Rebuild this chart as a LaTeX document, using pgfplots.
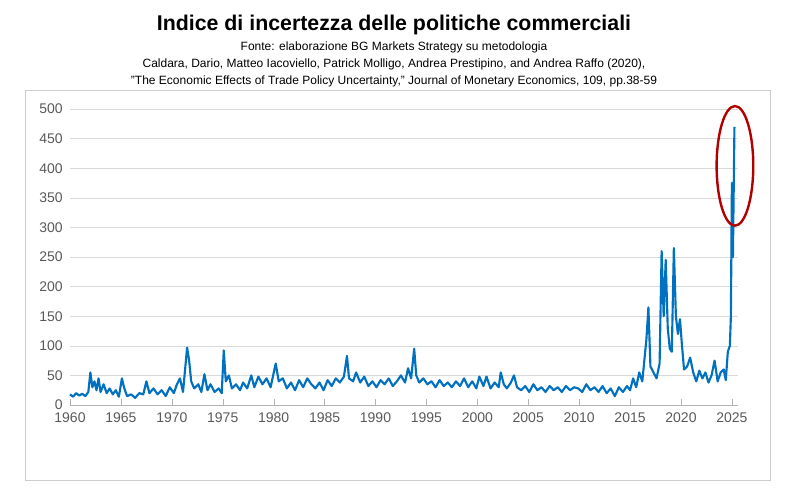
\documentclass[border=0pt]{standalone}
\usepackage{pgfplots}
\pgfplotsset{compat=1.18}
\usepackage{fontspec}
\setmainfont{Liberation Sans}
\definecolor{ser}{HTML}{0070C0}
\definecolor{tk}{HTML}{595959}
\begin{document}
\begin{tikzpicture}[x=1pt,y=1pt]
\useasboundingbox (0,0) rectangle (591,370.5);
\draw[gray!40] (18.75,10.5) rectangle (577.5,303);
\node[font=\bfseries\fontsize{16}{18}\selectfont] at (295.5,351.5) {Indice di incertezza delle politiche commerciali};
\node[font=\fontsize{9}{10}\selectfont] at (295.5,335.2) {Fonte: elaborazione BG Markets Strategy su metodologia};
\node[font=\fontsize{9}{10}\selectfont] at (295.5,322.5) {Caldara, Dario, Matteo Iacoviello, Patrick Molligo, Andrea Prestipino, and Andrea Raffo (2020),};
\node[font=\fontsize{9}{10}\selectfont] at (295.5,309.7) {"The Economic Effects of Trade Policy Uncertainty," Journal of Monetary Economics, 109, pp.38-59};
\begin{axis}[at={(52.5pt,66.75pt)},anchor=south west,scale only axis,width=501pt,height=222pt,
 xmin=1960,xmax=2025.6,ymin=0,ymax=500,enlargelimits=false,
 xtick={1960,1965,...,2025},ytick={0,50,...,500},
 /pgf/number format/1000 sep={},/pgf/number format/assume math mode=true,
 ymajorgrids,grid style={gray!30},axis y line*=left,axis x line*=bottom,
 y axis line style={draw=none},x axis line style={gray!60},
 tick style={draw=none},xtick style={draw=gray!60},
 xticklabel style={yshift=-2pt},yticklabel style={xshift=-2pt},
 ticklabel style={font=\fontsize{10.5}{12}\selectfont,text=tk},clip=false]
\addplot[ser,line width=1.6pt,line join=round] coordinates {
(1960.0,18)(1960.3,14)(1960.6,20)(1960.9,16)(1961.2,19)(1961.5,15)(1961.8,22)(1962.0,55)(1962.2,30)(1962.4,40)(1962.6,25)(1962.8,45)(1963.0,22)(1963.3,35)(1963.6,20)(1963.9,28)(1964.2,18)(1964.5,25)(1964.8,14)(1965.1,45)(1965.3,30)(1965.6,15)(1966.0,18)(1966.4,12)(1966.8,20)(1967.2,18)(1967.5,40)(1967.8,20)(1968.2,28)(1968.6,18)(1969.0,25)(1969.4,15)(1969.8,30)(1970.2,20)(1970.5,35)(1970.8,45)(1971.1,22)(1971.5,97)(1971.7,75)(1971.9,40)(1972.2,28)(1972.6,35)(1972.9,22)(1973.2,52)(1973.5,25)(1973.8,35)(1974.2,22)(1974.6,28)(1974.9,20)(1975.1,92)(1975.3,40)(1975.6,50)(1975.9,28)(1976.3,35)(1976.7,25)(1977.0,38)(1977.4,28)(1977.8,50)(1978.1,30)(1978.5,48)(1978.9,35)(1979.3,45)(1979.7,30)(1980.2,70)(1980.5,40)(1980.9,45)(1981.3,28)(1981.7,38)(1982.1,25)(1982.5,42)(1982.9,30)(1983.3,45)(1983.7,35)(1984.1,28)(1984.5,38)(1984.9,25)(1985.3,42)(1985.7,32)(1986.1,45)(1986.5,38)(1986.9,48)(1987.2,83)(1987.4,45)(1987.8,40)(1988.1,55)(1988.5,38)(1988.9,48)(1989.3,32)(1989.7,40)(1990.1,30)(1990.5,42)(1990.9,35)(1991.3,45)(1991.7,32)(1992.1,40)(1992.5,50)(1992.9,38)(1993.2,62)(1993.5,45)(1993.8,95)(1994.0,50)(1994.3,38)(1994.7,45)(1995.1,35)(1995.5,40)(1995.9,30)(1996.3,42)(1996.7,32)(1997.1,38)(1997.5,30)(1997.9,40)(1998.3,32)(1998.7,45)(1999.1,30)(1999.5,40)(1999.9,28)(2000.2,48)(2000.6,32)(2000.9,48)(2001.3,28)(2001.7,38)(2002.1,30)(2002.3,55)(2002.6,35)(2002.9,28)(2003.3,38)(2003.6,50)(2003.9,30)(2004.3,25)(2004.7,32)(2005.1,22)(2005.5,35)(2005.9,25)(2006.3,30)(2006.7,22)(2007.1,32)(2007.5,25)(2007.9,30)(2008.3,22)(2008.7,32)(2009.1,25)(2009.5,30)(2009.9,28)(2010.3,22)(2010.7,35)(2011.1,25)(2011.5,30)(2011.9,22)(2012.3,32)(2012.7,20)(2013.1,28)(2013.5,15)(2013.9,30)(2014.3,22)(2014.7,32)(2015.0,25)(2015.3,45)(2015.6,30)(2015.9,55)(2016.2,40)(2016.4,75)(2016.6,110)(2016.8,165)(2017.0,65)(2017.3,55)(2017.6,45)(2017.9,70)(2018.1,260)(2018.3,150)(2018.5,245)(2018.7,130)(2018.9,95)(2019.1,90)(2019.3,265)(2019.5,150)(2019.7,120)(2019.9,145)(2020.1,100)(2020.3,60)(2020.6,65)(2020.9,80)(2021.2,55)(2021.5,40)(2021.8,58)(2022.1,45)(2022.4,55)(2022.7,38)(2023.0,50)(2023.3,75)(2023.6,40)(2023.9,55)(2024.2,60)(2024.4,42)(2024.6,90)(2024.8,100)(2024.9,150)(2025.0,375)(2025.1,250)(2025.25,470)};
\draw[red!70!black,line width=1.8pt] (axis cs:2025.3,404) ellipse [x radius=1.8,y radius=101];
\end{axis}
\end{tikzpicture}
\end{document}
